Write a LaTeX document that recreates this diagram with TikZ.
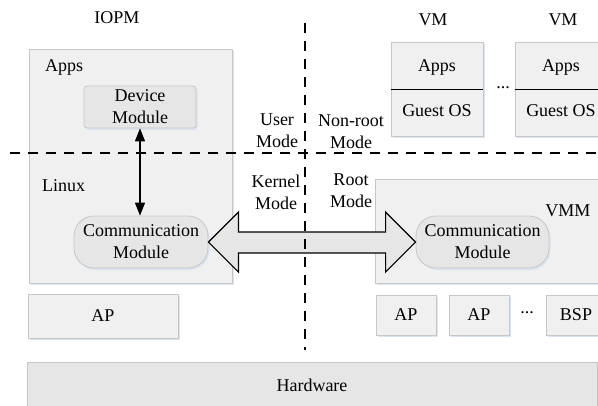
\documentclass[tikz,border=0pt]{standalone}
\usepackage{fontspec}
\setmainfont{Liberation Serif}
\usetikzlibrary{arrows.meta,calc,shadows}
\definecolor{panel}{HTML}{F0F0F0}
\definecolor{panelline}{HTML}{C6C6C6}
\definecolor{module}{HTML}{E6E6E6}
\definecolor{shade}{HTML}{D8E3F0}
\tikzset{
  lbl/.style={font=\fontsize{18}{22}\selectfont, inner sep=0pt, align=center},
  softshadow/.style={drop shadow={shadow xshift=1.5pt, shadow yshift=-2pt, fill=shade, opacity=0.9}},
  panelbox/.style={draw=panelline, fill=panel, line width=0.8pt, softshadow, inner sep=0pt},
  modbox/.style={draw=panelline, fill=module, line width=0.8pt, softshadow, inner sep=0pt, align=center, font=\fontsize{18}{22}\selectfont},
  modeline/.style={line width=1.2pt, dash pattern=on 10pt off 8pt},
  tip/.style={line width=1.2pt, {Triangle[length=13pt,width=10pt]}-{Triangle[length=13pt,width=10pt]}},
  bigarrow/.style={draw=black, fill=module, line width=1.2pt, line join=miter}
}
\begin{document}
\begin{tikzpicture}[x=1pt,y=-1pt]
\useasboundingbox (0,0) rectangle (598,405);
\clip (0,0) rectangle (598,405);
\fill[white] (0,0) rectangle (598,405);

% ---------- IOPM side ----------
\node[lbl] (iopmlbl) at (117,18) {IOPM};
\node[panelbox, minimum width=203pt, minimum height=234pt] (iopm) at (130.5,166) {};
\node[lbl, anchor=west] (apps) at (45,67) {Apps};
\node[lbl, anchor=west] (linux) at (42,186) {Linux};
\node[modbox, rounded corners=3pt, minimum width=112pt, minimum height=42pt] (devmod) at (140,107) {Device\\Module};
\node[modbox, rounded corners=20pt, minimum width=134pt, minimum height=52pt] (commL) at (141,242) {Communication\\Module};
\node[panelbox, minimum width=150pt, minimum height=44pt, lbl] (apL) at (103,316) {AP};

% ---------- VM side ----------
\node[lbl] (vmlbl1) at (433,20) {VM};
\node[lbl] (vmlbl2) at (563,20) {VM};
\node[panelbox, minimum width=92pt, minimum height=94pt] (vm1) at (437,89) {};
\node[panelbox, minimum width=92pt, minimum height=94pt] (vm2) at (561,89) {};
\draw[line width=1pt] (vm1.west) -- (vm1.east);
\draw[line width=1pt] (vm2.west) -- (vm2.east);
\node[lbl] (apps1) at (437,67) {Apps};
\node[lbl] (guest1) at (437,111) {Guest OS};
\node[lbl] (apps2) at (561,67) {Apps};
\node[lbl] (guest2) at (561,111) {Guest OS};
\node[lbl] (vmdots) at (503,88) {...};

\node[panelbox, minimum width=240pt, minimum height=104pt] (vmm) at (495,231) {};
\node[lbl] (vmmlbl) at (568,211) {VMM};
\node[modbox, rounded corners=20pt, minimum width=133pt, minimum height=52pt] (commR) at (482.5,242) {Communication\\Module};

\node[panelbox, minimum width=60pt, minimum height=40pt, lbl] (ap1) at (406,315) {AP};
\node[panelbox, minimum width=60pt, minimum height=40pt, lbl] (ap2) at (479,315) {AP};
\node[lbl] (apdots) at (527,313) {...};
\node[panelbox, minimum width=60pt, minimum height=40pt, lbl] (bsp) at (576,315) {BSP};

% ---------- hardware ----------
\node[draw=panelline, fill=module, line width=0.8pt, inner sep=0pt, minimum width=570pt, minimum height=46pt, lbl] (hw) at (312,385) {Hardware};

% ---------- connectors ----------
\draw[tip] (devmod.south) -- (devmod.south |- commL.north);
\coordinate (L) at (commL.east);
\coordinate (R) at (commR.west);
\draw[bigarrow] (L) -- ++(30,-30) -- ++(0,20) -- ($(R)+(-30,-10)$) -- ++(0,-20)
  -- (R) -- ++(-30,30) -- ++(0,-19) -- ($(L)+(30,11)$) -- ++(0,19) -- cycle;

% ---------- privilege boundaries ----------
\coordinate (hl) at (10,153);
\coordinate (hr) at (598,153);
\coordinate (vt) at (305,23);
\coordinate (vb) at (305,350);
\draw[modeline] (hl) -- (hr);
\draw[modeline] (vt) -- (vb);

\node[lbl] (user) at (277,131) {User\\Mode};
\node[lbl] (kernel) at (276,192) {Kernel\\Mode};
\node[lbl] (nonroot) at (351,132) {Non-root\\Mode};
\node[lbl] (root) at (351,191) {Root\\Mode};
\end{tikzpicture}
\end{document}
